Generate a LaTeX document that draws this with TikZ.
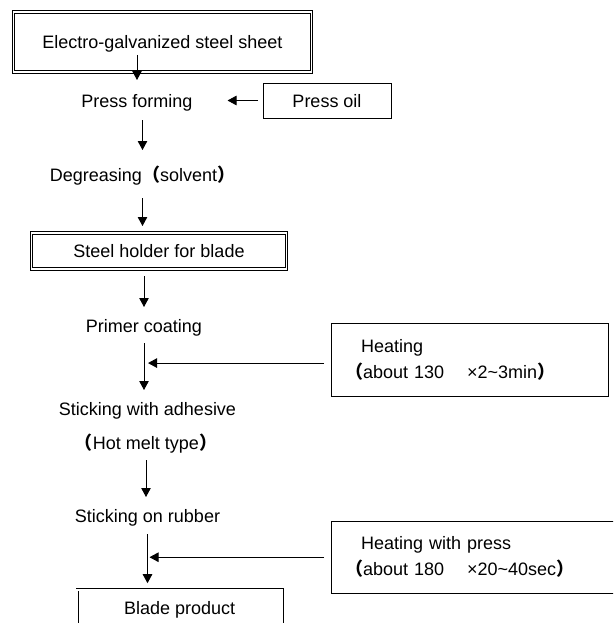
\documentclass[tikz,border=0pt]{standalone}
\usepackage{fontspec}
\setmainfont{Liberation Sans}
\newfontfamily\cjk{Noto Sans CJK SC}
\usetikzlibrary{arrows.meta}
\newcommand{\lpar}{{\cjk\bfseries （}}
\newcommand{\rpar}{{\cjk\bfseries ）}}

\begin{document}
\begin{tikzpicture}[x=1pt, y=-1pt,
    every node/.style={font=\fontsize{18}{26}\selectfont, inner sep=0pt, outer sep=0pt},
    steptext/.style={text height=13pt, text depth=4pt},
    mainbox/.style={draw, double, double distance=1.6pt, line width=0.8pt, text height=13pt, text depth=0pt},
    sidebox/.style={draw, line width=0.9pt, text height=13pt, text depth=0pt},
    notebox/.style={draw, line width=0.9pt, align=left, inner xsep=14pt},
    arr/.style={-{Triangle[width=9.5pt,length=9pt]}, line width=0.9pt}]
    \useasboundingbox (0,0) rectangle (613,623);
    \clip (0,0) rectangle (613,623);

    % Process steps
    \node[mainbox, minimum width=298pt, minimum height=60pt] (sheet) at (162.4,42) {Electro-galvanized steel sheet};
    \node[steptext] (press) at (137,103) {Press forming};
    \node[sidebox, minimum width=128pt, minimum height=35pt] (oil) at (327,100.5) {Press oil};
    \node[steptext] (degrease) at (142.5,177) {Degreasing\lpar solvent\rpar};
    \node[mainbox, minimum width=255pt, minimum height=36pt] (holder) at (159,251) {Steel holder for blade};
    \node[steptext] (primer) at (144,327.5) {Primer coating};
    \node[steptext] (adhesive) at (147.5,410.5) {Sticking with adhesive};
    \node[steptext] (hotmelt) at (146,444.5) {\lpar Hot melt type\rpar};
    \node[steptext] (rubber) at (147.5,517.5) {Sticking on rubber};
    \node[mainbox, minimum width=205pt, minimum height=36pt] (blade) at (179.6,607.7) {Blade product};

    % Heating conditions
    \node[notebox, text width=249pt, minimum height=73pt] (heat) at (469.5,359.5)
        {\hspace*{16pt}Heating\\\lpar about 130\hspace{23pt}×2\textasciitilde 3min\rpar};
    \node[notebox, text width=262pt, minimum height=72pt] (heatpress) at (476,557)
        {\hspace*{16pt}Heating with press\\\lpar about 180\hspace{23pt}×20\textasciitilde 40sec\rpar};

    % Flow arrows
    \draw[arr, shorten <=13pt, shorten >=14.5pt] (sheet.center -| press) -- (press.north);
    \draw[arr, shorten <=5pt, shorten >=35pt] (oil.west) -- (oil.west -| press.east);
    \draw[arr, shorten <=8.5pt, shorten >=18.5pt] (press.south -| degrease) -- (degrease.north);
    \draw[arr, shorten <=12.5pt, shorten >=7pt] (degrease.south) -- (degrease.south |- holder.north);
    \draw[arr, shorten <=7.3pt, shorten >=12pt] (holder.south -| primer) -- (primer.north);
    \draw[arr, shorten <=7pt, shorten >=12pt] (primer.south) -- coordinate[pos=0.41] (heatjoin) (primer.south |- adhesive.north);
    \draw[arr, shorten <=7pt, shorten >=4pt] (heat.west |- heatjoin) -- (heatjoin);
    \draw[arr, shorten <=7pt, shorten >=12pt] (hotmelt.south) -- (hotmelt.south |- rubber.north);
    \draw[arr, shorten <=8pt, shorten >=6.5pt] (rubber.south) -- coordinate[pos=0.49] (pressjoin) (rubber.south |- blade.north);
    \draw[arr, shorten <=7pt, shorten >=2pt] (heatpress.west |- pressjoin) -- (pressjoin);
\end{tikzpicture}
\end{document}
